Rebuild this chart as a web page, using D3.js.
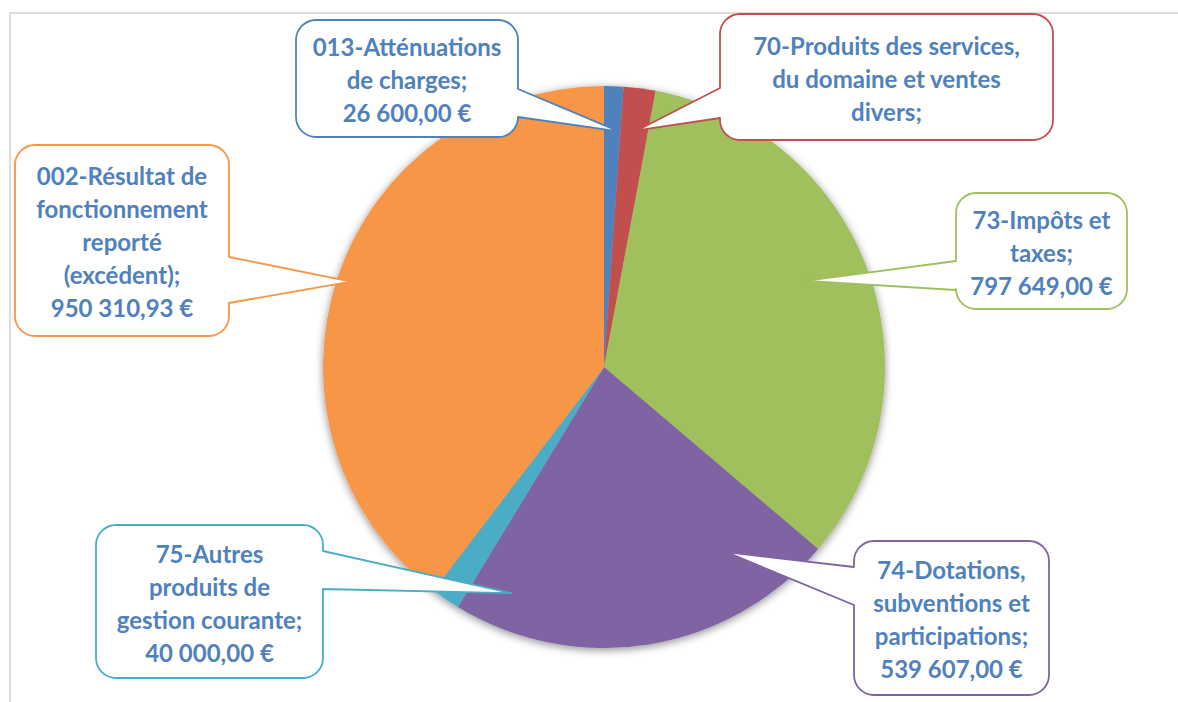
<!DOCTYPE html>
<html lang="fr">
<head>
<meta charset="UTF-8"/>
<title>Recettes de fonctionnement</title>
<script src="https://d3js.org/d3.v7.min.js"></script>
<style>
  body { margin: 0; background: #fff; }
  svg { display: block; }
</style>
</head>
<body>
<script>
    var w = 1178;
    var h = 702;

    // slices, clockwise from 12 o'clock
    var categories = ["013", "70", "73", "74", "75", "002"];
    var values = [26600, 44000, 797649, 539607, 40000, 950310.93];
    var nameLines = [
        ["013-Atténuations", "de charges;"],
        ["70-Produits des services,", "du domaine et ventes", "divers;"],
        ["73-Impôts et", "taxes;"],
        ["74-Dotations,", "subventions et", "participations;"],
        ["75-Autres", "produits de", "gestion courante;"],
        ["002-Résultat de", "fonctionnement", "reporté", "(excédent);"]
    ];
    var showValue = [true, false, true, true, true, true];
    var colors = ["#4F81BD", "#C0504D", "#9FC05C", "#8064A2", "#4BACC6", "#F79646"];

    // callout boxes (layout only)
    var boxes = [
        {x: 296, y: 20,  w: 222, h: 117, side: "right", b0: 89,  b1: 117, f: 0.9,  rr: 0.84},
        {x: 720, y: 14,  w: 333, h: 126, side: "left",  b0: 88,  b1: 118, f: 0.6,  rr: 0.85},
        {x: 956, y: 193, w: 171, h: 116, side: "left",  b0: 261, b1: 290, f: 0.47, rr: 0.78},
        {x: 854, y: 541, w: 195, h: 154, side: "left",  b0: 567, b1: 605, f: 0.2,  rr: 0.79},
        {x: 96,  y: 525, w: 227, h: 153, side: "right", b0: 551, b1: 589, f: -1.5, rr: 0.87},
        {x: 15,  y: 145, w: 214, h: 191, side: "right", b0: 257, b1: 303, f: 0.5,  rr: 0.95}
    ];

    var fr = d3.formatLocale({decimal: ",", thousands: "\u00a0", grouping: [3], currency: ["", "\u00a0€"]});
    var money = fr.format("$,.2f");

    var cx = 604, cy = 367, radius = 281;

    var svg = d3.select("body").append("svg")
        .attr("width", w)
        .attr("height", h);

    var defs = svg.append("defs");
    var filt = defs.append("filter").attr("id", "shadow")
        .attr("x", "-20%").attr("y", "-20%").attr("width", "140%").attr("height", "140%");
    filt.append("feDropShadow")
        .attr("dx", 0).attr("dy", 2)
        .attr("stdDeviation", 4)
        .attr("flood-color", "#000")
        .attr("flood-opacity", 0.45);

    // frame
    svg.append("path")
        .attr("d", "M10," + h + "V13H" + w)
        .attr("fill", "none")
        .attr("stroke", "#dcdcdc")
        .attr("stroke-width", 2);

    var pie = d3.pie().sort(null).value(function(d) { return d; });
    var arcs = pie(values);
    var arc = d3.arc().innerRadius(0).outerRadius(radius);

    var g = svg.append("g").attr("transform", "translate(" + cx + "," + cy + ")");
    g.append("g").attr("filter", "url(#shadow)")
        .selectAll("path")
        .data(arcs)
        .enter()
        .append("path")
        .attr("d", arc)
        .attr("fill", function(d, i) { return colors[i]; });

    function tipPoint(a, b) {
        var ang = a.startAngle + b.f * (a.endAngle - a.startAngle);
        var r = b.rr * radius;
        return [cx + r * Math.sin(ang), cy - r * Math.cos(ang)];
    }

    function calloutPath(b, t) {
        var r = 20, x = b.x, y = b.y, x2 = b.x + b.w, y2 = b.y + b.h;
        var p = "M" + (x + r) + "," + y + "H" + (x2 - r) +
            "A" + r + "," + r + " 0 0 1 " + x2 + "," + (y + r);
        if (b.side === "right") p += "V" + b.b0 + "L" + t[0] + "," + t[1] + "L" + x2 + "," + b.b1;
        p += "V" + (y2 - r) + "A" + r + "," + r + " 0 0 1 " + (x2 - r) + "," + y2 +
            "H" + (x + r) + "A" + r + "," + r + " 0 0 1 " + x + "," + (y2 - r);
        if (b.side === "left") p += "V" + b.b1 + "L" + t[0] + "," + t[1] + "L" + x + "," + b.b0;
        p += "V" + (y + r) + "A" + r + "," + r + " 0 0 1 " + (x + r) + "," + y + "Z";
        return p;
    }

    var callouts = svg.selectAll("g.callout")
        .data(arcs)
        .enter()
        .append("g")
        .attr("class", "callout");

    callouts.append("path")
        .attr("d", function(d, i) { return calloutPath(boxes[i], tipPoint(d, boxes[i])); })
        .attr("fill", "#fff")
        .attr("stroke", function(d, i) { return colors[i]; })
        .attr("stroke-width", 1.8)
        .attr("stroke-linejoin", "round");

    callouts.each(function(d, i) {
        var b = boxes[i];
        var lines = nameLines[i].slice();
        if (showValue[i]) lines.push(money(d.data));
        var n = lines.length;
        var mid = b.y + b.h / 2 + 2.5;
        d3.select(this).selectAll("text")
            .data(lines)
            .enter()
            .append("text")
            .attr("x", b.x + b.w / 2)
            .attr("y", function(s, k) { return mid + (k - (n - 1) / 2) * 33 + 8; })
            .attr("text-anchor", "middle")
            .attr("fill", "#4F81BD")
            .style("font-family", "Lato, 'Open Sans', sans-serif")
            .style("font-weight", "bold")
            .style("font-size", "24px")
            .text(function(s) { return s; });
    });
</script>
</body>
</html>
